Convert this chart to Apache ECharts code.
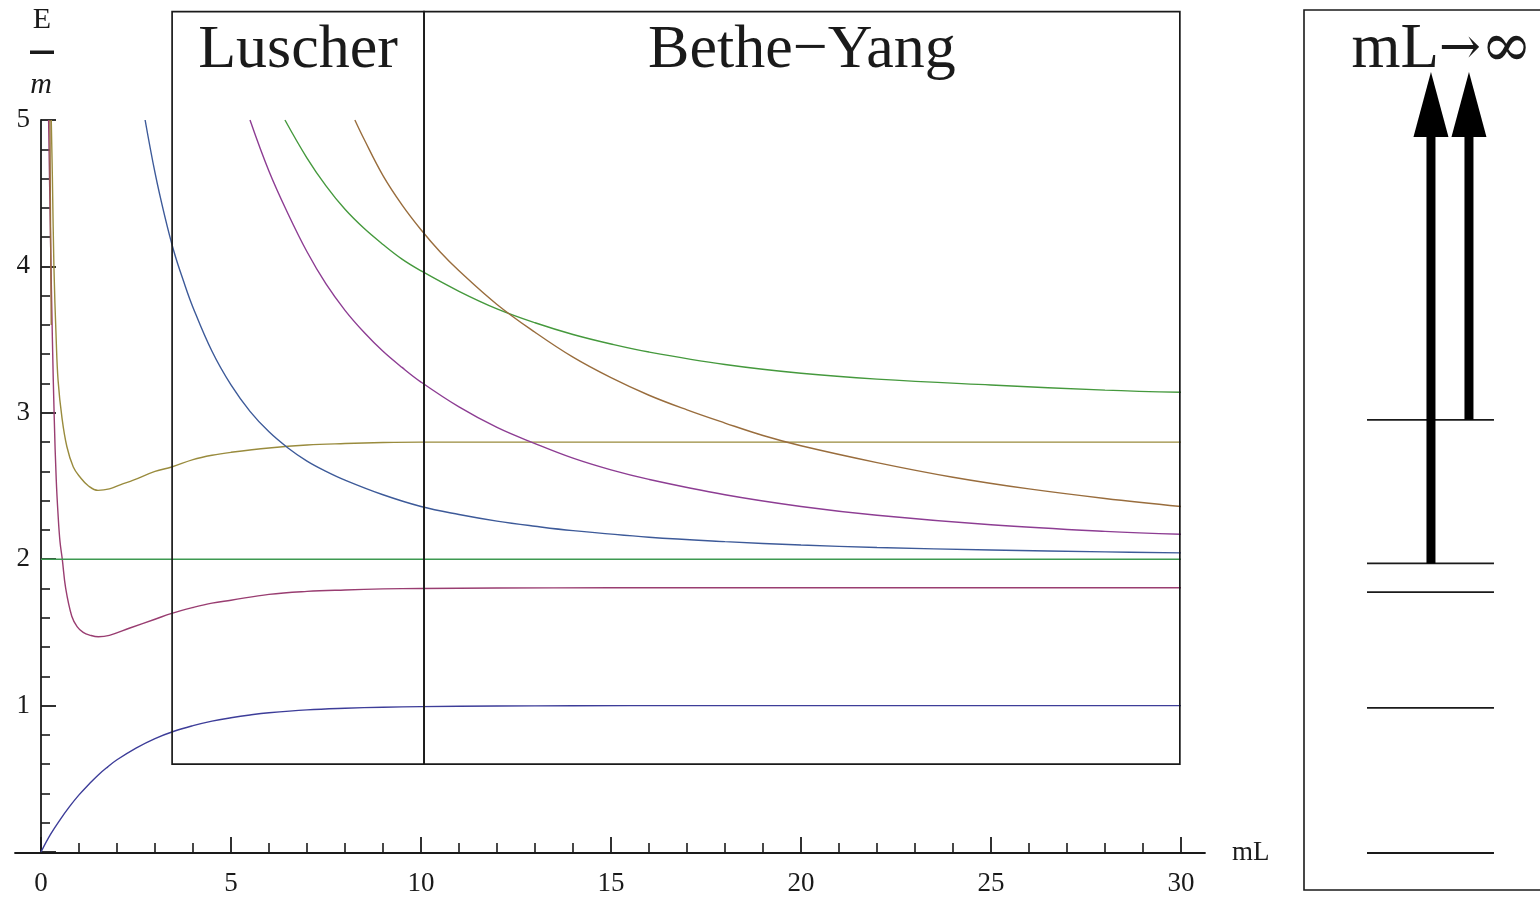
<!DOCTYPE html>
<html>
<head>
<meta charset="utf-8">
<title>E/m vs mL</title>
<script src="https://cdn.jsdelivr.net/npm/echarts@6/dist/echarts.min.js"></script>
<style>
html, body { margin: 0; padding: 0; background: #fff; }
#chart { width: 1540px; height: 897px; }
</style>
</head>
<body>
<div id="chart"></div>
<script>
// energy levels E/m against mL
var groundLevel = [[0,0],[0.25,0.12],[0.5,0.22],[0.75,0.31],[1,0.39],[1.25,0.46],[1.5,0.525],[1.75,0.58],[2,0.63],[2.5,0.71],[3,0.775],[3.5,0.825],[4,0.863],[4.5,0.894],[5,0.917],[5.5,0.936],[6,0.951],[7,0.971],[8,0.982],[9,0.989],[10,0.993],[12,0.997],[14,0.999],[17,1],[20,1],[25,1],[30,1]];
var boundLevel = [[0.2,5],[0.25,4.2],[0.3,3.5],[0.35,2.95],[0.4,2.55],[0.45,2.3],[0.5,2.12],[0.56,2.0],[0.65,1.8],[0.81,1.61],[0.95,1.54],[1.11,1.5],[1.3,1.48],[1.51,1.47],[1.8,1.48],[2.34,1.53],[3,1.59],[3.44,1.63],[4,1.67],[4.5,1.7],[5,1.72],[6,1.76],[7,1.78],[8,1.79],[9,1.797],[10,1.8],[12,1.803],[15,1.805],[20,1.805],[25,1.805],[30,1.805]];
var upperBound = [[0.27,5],[0.3,4.6],[0.34,4.0],[0.4,3.5],[0.45,3.22],[0.55,2.97],[0.68,2.77],[0.85,2.63],[1.03,2.56],[1.25,2.5],[1.5,2.47],[1.8,2.48],[2.1,2.51],[2.43,2.54],[3,2.6],[3.44,2.63],[4,2.68],[4.5,2.71],[5,2.73],[6,2.76],[7,2.78],[8,2.79],[9,2.797],[10,2.8],[12,2.8],[15,2.8],[20,2.8],[25,2.8],[30,2.8]];
var threshold = [[0,2],[30,2]];
var scatter1 = [[2.74,5],[3,4.64],[3.25,4.35],[3.5,4.1],[3.75,3.9],[4,3.72],[4.5,3.42],[5,3.19],[5.5,3.01],[6,2.87],[6.5,2.76],[7,2.67],[7.5,2.6],[8,2.54],[9,2.44],[10,2.36],[11,2.305],[12,2.26],[13,2.225],[14,2.195],[16,2.15],[18,2.12],[20,2.097],[22,2.08],[25,2.063],[28,2.05],[30,2.043]];
var scatter2 = [[5.5,5],[6,4.65],[6.5,4.36],[7,4.1],[7.5,3.88],[8,3.7],[8.5,3.55],[9,3.42],[9.5,3.31],[10,3.21],[11,3.04],[12,2.9],[13,2.79],[14,2.69],[15,2.61],[16,2.545],[18,2.44],[20,2.36],[22,2.3],[25,2.235],[28,2.19],[30,2.17]];
var nearAxis = [[0.235,5],[0.25,4.3],[0.27,3.6]];
var threeBody = [[6.42,5],[7,4.74],[7.5,4.55],[8,4.39],[8.5,4.26],[9,4.15],[9.5,4.05],[10,3.97],[11,3.83],[12,3.71],[13,3.615],[14,3.535],[15,3.47],[16,3.415],[18,3.33],[20,3.27],[22,3.23],[25,3.19],[28,3.155],[30,3.14]];
var scatter3 = [[8.26,5],[8.5,4.87],[9,4.62],[9.5,4.42],[10,4.25],[10.5,4.1],[11,3.97],[12,3.74],[13,3.55],[14,3.38],[15,3.24],[16,3.12],[17,3.02],[18,2.93],[19,2.845],[20,2.775],[22,2.66],[24,2.56],[26,2.48],[28,2.415],[30,2.36]];

var xTicks = [0, 5, 10, 15, 20, 25, 30];
var yTicks = [1, 2, 3, 4, 5];

// regions: [xFrom, xTo, yFrom, yTo]
var regions = [[3.45, 10.08, 0.6, 5.74], [10.08, 29.97, 0.6, 5.74]];
var regionNames = ['Luscher', 'Bethe\u2212Yang'];

// right panel: infinite volume levels and arrows
var panelFrame = [[0, 1.2, -0.2524, 5.7503]];
var limitLevels = [0, 0.99, 1.78, 1.975, 2.955];
var arrowFrom = [1.975, 2.955];
var arrowTo = 5.327;
var levelSpan = [0.267, 0.805];
var arrowPos = [0.538, 0.699];

var serif = '"Liberation Serif", "Times New Roman", serif';
var ink = '#1a1a1a';

var chart = echarts.init(document.getElementById('chart'), null, { renderer: 'canvas' });

function curve(name, data, color) {
    return {
        name: name,
        type: 'line',
        xAxisIndex: 0, yAxisIndex: 0,
        data: data,
        smooth: 0.4,
        showSymbol: false,
        silent: true,
        lineStyle: { color: color, width: 1.4 },
        z: 3
    };
}

var option = {
    backgroundColor: '#fff',
    animation: false,
    grid: [
        { left: 41, right: 359, top: 120, bottom: 44 },
        { left: 15, right: 335, top: 120, bottom: 44 },
        { left: 1304, right: 0, top: 10, bottom: 7 }
    ],
    xAxis: [
        {
            gridIndex: 0, type: 'value', min: 0, max: 30, interval: 5,
            axisLine: { show: false },
            axisTick: { show: true, inside: true, length: 15, lineStyle: { color: ink, width: 1.8 } },
            minorTick: { show: true, splitNumber: 5, length: 9, lineStyle: { color: ink, width: 1.6 } },
            splitLine: { show: false },
            axisLabel: { margin: 18, fontFamily: serif, fontSize: 27, color: ink,
                formatter: function (v) { return xTicks.indexOf(v) >= 0 ? String(v) : ''; } }
        },
        {
            gridIndex: 1, type: 'value', min: 0, max: 1,
            axisLine: { show: true, onZero: false, lineStyle: { color: ink, width: 1.8 } },
            axisTick: { show: false }, axisLabel: { show: false }, splitLine: { show: false },
            name: 'mL', nameLocation: 'end', nameGap: 27,
            nameTextStyle: { fontFamily: serif, fontSize: 27, color: ink, padding: [8, 0, 0, 0] }
        },
        {
            gridIndex: 2, type: 'value', min: 0, max: 1, show: false
        }
    ],
    yAxis: [
        {
            gridIndex: 0, type: 'value', min: 0, max: 5, interval: 1,
            axisLine: { show: true, onZero: false, lineStyle: { color: ink, width: 1.8 } },
            axisTick: { show: true, inside: true, length: 15, lineStyle: { color: ink, width: 1.8 } },
            minorTick: { show: true, splitNumber: 5, length: 9, lineStyle: { color: ink, width: 1.6 } },
            splitLine: { show: false },
            axisLabel: { margin: 11, fontFamily: serif, fontSize: 27, color: ink,
                formatter: function (v) { return yTicks.indexOf(v) >= 0 ? String(v) : ''; } }
        },
        { gridIndex: 1, type: 'value', min: 0, max: 5, show: false },
        { gridIndex: 2, type: 'value', min: -0.2524, max: 5.7503, show: false }
    ],
    graphic: [
        { type: 'text', x: 42, y: 20, style: { text: 'E', font: '30px ' + serif, fill: ink, align: 'center', verticalAlign: 'middle' } },
        { type: 'rect', shape: { x: 30, y: 50.5, width: 24, height: 3.5 }, style: { fill: ink } },
        { type: 'text', x: 41, y: 85, style: { text: 'm', font: 'italic 30px ' + serif, fill: ink, align: 'center', verticalAlign: 'middle' } },
        {
            type: 'text', x: 1442, y: 50,
            style: {
                text: '{a|mL}{b|\u2192}{c|\u221E}',
                align: 'center', verticalAlign: 'middle', fill: ink,
                rich: {
                    a: { fontFamily: serif, fontSize: 63, fill: ink },
                    b: { fontFamily: '"DejaVu Serif", serif', fontSize: 50, fill: ink },
                    c: { fontFamily: '"DejaVu Serif", serif', fontSize: 62, fill: ink }
                }
            }
        }
    ],
    series: [
        curve('ground', groundLevel, '#3d3d99'),
        curve('bound', boundLevel, '#993d71'),
        curve('upper', upperBound, '#998b3d'),
        curve('threshold', threshold, '#3d9951'),
        curve('scattering 1', scatter1, '#3d5a99'),
        curve('scattering 2', scatter2, '#8d3d93'),
        curve('near axis', nearAxis, '#996d3d'),
        curve('three body', threeBody, '#45993d'),
        curve('scattering 3', scatter3, '#996d3d'),
        {
            name: 'regions',
            type: 'custom',
            xAxisIndex: 0, yAxisIndex: 0,
            clip: false,
            silent: true,
            z: 5,
            data: regions,
            encode: { x: [0, 1], y: [2, 3] },
            renderItem: function (params, api) {
                var tl = api.coord([api.value(0), api.value(3)]);
                var br = api.coord([api.value(1), api.value(2)]);
                return {
                    type: 'group',
                    children: [
                        { type: 'rect', shape: { x: tl[0], y: tl[1], width: br[0] - tl[0], height: br[1] - tl[1] },
                          style: { fill: 'none', stroke: ink, lineWidth: 1.7 } },
                        { type: 'text', x: (tl[0] + br[0]) / 2, y: tl[1] + 39,
                          style: { text: regionNames[params.dataIndex], font: '62px ' + serif, fill: ink, align: 'center', verticalAlign: 'middle' } }
                    ]
                };
            }
        },
        {
            name: 'panel frame',
            type: 'custom',
            xAxisIndex: 2, yAxisIndex: 2,
            clip: false,
            silent: true,
            data: panelFrame,
            encode: { x: [0, 1], y: [2, 3] },
            renderItem: function (params, api) {
                var tl = api.coord([api.value(0), api.value(3)]);
                var br = api.coord([api.value(1), api.value(2)]);
                return { type: 'rect', shape: { x: tl[0], y: tl[1], width: br[0] - tl[0], height: br[1] - tl[1] },
                         style: { fill: 'none', stroke: ink, lineWidth: 1.6 } };
            }
        },
        {
            name: 'limit levels',
            type: 'custom',
            xAxisIndex: 2, yAxisIndex: 2,
            clip: false,
            silent: true,
            data: limitLevels.map(function (v) { return [levelSpan[0], levelSpan[1], v]; }),
            encode: { x: [0, 1], y: 2 },
            renderItem: function (params, api) {
                var a = api.coord([api.value(0), api.value(2)]);
                var b = api.coord([api.value(1), api.value(2)]);
                return { type: 'line', shape: { x1: a[0], y1: a[1], x2: b[0], y2: b[1] }, style: { stroke: ink, lineWidth: 1.8 } };
            }
        },
        {
            name: 'arrows',
            type: 'custom',
            xAxisIndex: 2, yAxisIndex: 2,
            clip: false,
            silent: true,
            z: 4,
            data: arrowFrom.map(function (v, i) { return [arrowPos[i], v, arrowTo]; }),
            encode: { x: 0, y: [1, 2] },
            renderItem: function (params, api) {
                var p0 = api.coord([api.value(0), api.value(1)]);
                var p1 = api.coord([api.value(0), api.value(2)]);
                var headLen = 65, headHalf = 17.5, shaft = 9;
                return {
                    type: 'group',
                    children: [
                        { type: 'rect', shape: { x: p0[0] - shaft / 2, y: p1[1] + headLen - 2, width: shaft, height: p0[1] - p1[1] - headLen + 2 }, style: { fill: '#000' } },
                        { type: 'polygon', shape: { points: [[p1[0], p1[1]], [p1[0] - headHalf, p1[1] + headLen], [p1[0] + headHalf, p1[1] + headLen]] }, style: { fill: '#000' } }
                    ]
                };
            }
        }
    ]
};

chart.setOption(option);
</script>
</body>
</html>
